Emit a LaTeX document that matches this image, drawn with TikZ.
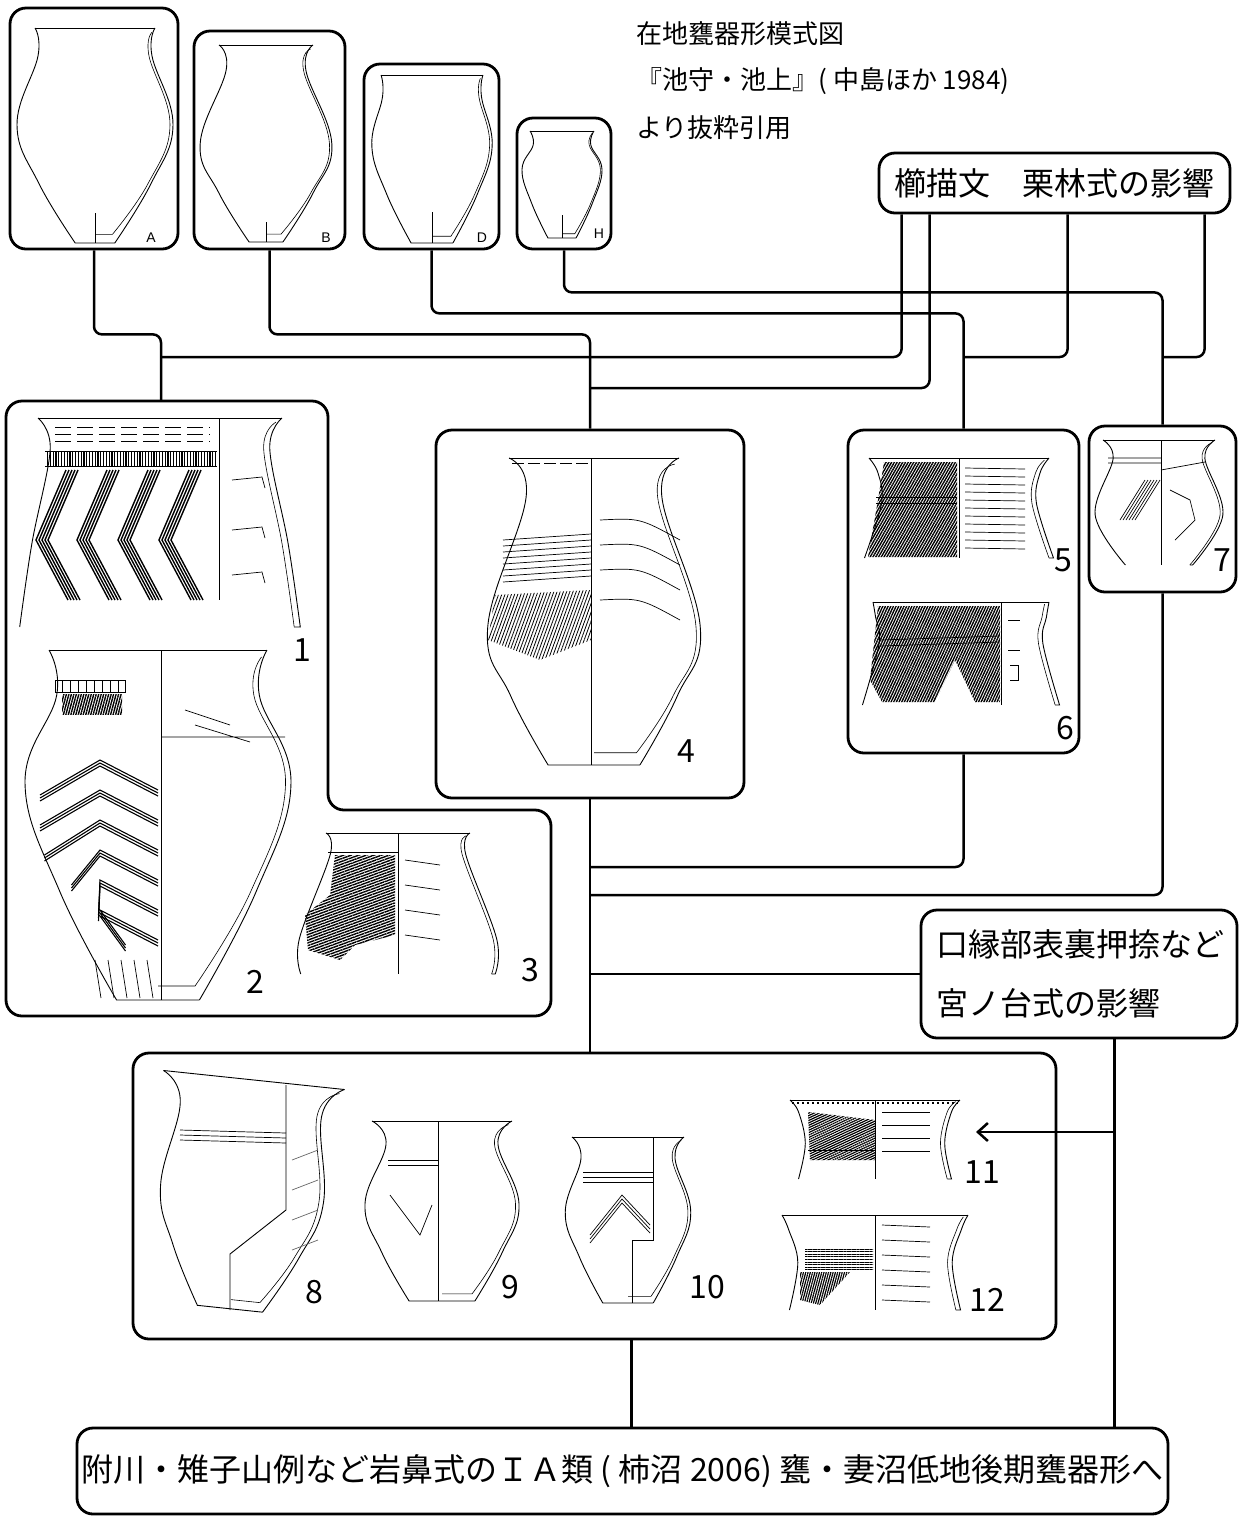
\documentclass[tikz,border=0pt]{standalone}
\usepackage{fontspec}
\setmainfont{Noto Sans CJK JP}
\newfontfamily\latinlab{Liberation Sans}
\usetikzlibrary{arrows.meta,positioning,calc,fit,patterns.meta}

\begin{document}
\begin{tikzpicture}[
      x=0.5pt, y=-0.5pt,
      >={Straight Barb[length=5pt,width=9pt]},
      font=\fontsize{16pt}{19pt}\selectfont,
      frame/.style ={draw, line width=1.4pt, rounded corners=8pt, inner sep=0pt},
      tbox/.style  ={frame, align=center},
      link/.style  ={line width=1.25pt, rounded corners=4pt},
      ware/.style  ={line width=0.45pt},
      wall/.style  ={line width=0.3pt},
      dec/.style   ={line width=0.35pt},
      ttl/.style   ={anchor=west, inner sep=0pt, font=\fontsize{13pt}{13pt}\selectfont},
      num/.style   ={font=\fontsize{16pt}{16pt}\selectfont},
      lett/.style  ={font=\latinlab\fontsize{7pt}{7pt}\selectfont},
      pics/pot/.style n args={4}{code={
        \draw[ware] (-1,0) -- (1,0);
        \draw[ware] plot[smooth, tension=0.7] coordinates {(-1,0) (-#1,0.13) (-#2,#3)
              ({-#4-(#2-#4)*0.62},{(#3+1)/2}) (-#4,1)} -- (#4,1);
        \draw[ware] plot[smooth, tension=0.7] coordinates {(1,0) (#1,0.13) (#2,#3)
              ({#4+(#2-#4)*0.62},{(#3+1)/2}) (#4,1)};
        \draw[wall] plot[smooth, tension=0.7] coordinates {(0.95,0.02) (#1-0.05,0.13) (#2-0.05,#3)
              ({#4+(#2-#4)*0.62-0.05},{(#3+1)/2}) (#4-0.04,0.96)} -- (0,0.96);
      }},
      pics/sherd/.style n args={4}{code={
        \draw[ware] (-1,0) -- (1,0);
        \draw[ware] plot[smooth, tension=0.6] coordinates {(-1,0) (-#1,0.15) (-#2,#3) (-#4,1)};
        \draw[ware] plot[smooth, tension=0.6] coordinates {(1,0) (#1,0.15) (#2,#3) (#4,1)} -- (#4-0.05,1);
        \draw[wall] plot[smooth, tension=0.6] coordinates {(0.95,0.02) (#1-0.05,0.15) (#2-0.05,#3) (#4-0.05,1)};
      }}
    ]
    \useasboundingbox (0,0) rectangle (1240,1517);

    % model forms A B D H
    \node[frame, fit={(10,8) (178,249)}] (vA) {};
    \node[frame, fit={(194,31) (345,249)}] (vB) {};
    \node[frame, fit={(364,64) (499,249)}] (vD) {};
    \node[frame, fit={(517,118) (611,249)}] (vH) {};
    \pic[xscale=60, yscale=215] at (95,28) {pot={0.95}{1.3}{0.45}{0.33}};
    \pic[xscale=47, yscale=197] at (266,45) {pot={0.85}{1.4}{0.5}{0.36}};
    \pic[xscale=51, yscale=168] at (432,75) {pot={0.97}{1.18}{0.42}{0.41}};
    \pic[xscale=32, yscale=107] at (562,131) {pot={0.9}{1.25}{0.36}{0.44}};
    \draw[ware] (95,213) -- (95,243) (266,222) -- (266,242)
                (432,212) -- (432,243) (562,215) -- (562,238);
    \node[lett] (lA) at (151,238) {A};
    \node[lett] (lB) at (326,238) {B};
    \node[lett] (lD) at (482,238) {D};
    \node[lett] (lH) at (599,234) {H};

    \node[ttl] (t1) at (636,34)  {在地甕器形模式図};
    \node[ttl] (t2) at (636,81)  {『池守・池上』( 中島ほか 1984)};
    \node[ttl] (t3) at (636,128) {より抜粋引用};

    \node[tbox, minimum width=175.5pt, minimum height=30pt] (kushi) at (1054.5,183) {櫛描文　栗林式の影響};

    % group 1-3
    \draw[line width=1.4pt, rounded corners=8pt]
          (6,401) -- (328,401) -- (328,810) -- (551,810) -- (551,1016) -- (6,1016) -- cycle;
    \coordinate (g13) at (161,401);
    \pic[xscale=122, yscale=209] at (160,418) {sherd={0.9}{1.05}{0.6}{1.15}};
    \draw[ware] (219,418) -- (219,600);
    \foreach \y in {427,434,441}
      \draw[dec, dash pattern=on 8pt off 3pt] (55,\y) -- (210,\y);
    \fill[pattern={Lines[angle=90,distance=1.4pt,line width=0.6pt]}] (45,451) rectangle (217,466);
    \draw[dec] (45,451) -- (217,451) (45,466) -- (217,466);
    \foreach \s in {80,121,162,203}
      \foreach \i in {0,...,4}
        \draw[line width=0.7pt] (\s+\i*3-14,470) -- (\s+\i*3-44,540) -- (\s+\i*3-12,600);
    \foreach \y in {480,530,575}
      \draw[dec] (232,\y) -- (262,\y-3) -- (265,\y+8);
    \node[num] (n1) at (302,650) {1};

    \pic[xscale=109, yscale=350] at (158,650) {pot={0.93}{1.22}{0.38}{0.38}};
    \draw[ware] (161,650) -- (161,1000);
    \draw[dec] (55,680) rectangle (125,692);
    \foreach \x in {62,70,...,118}
      \draw[dec] (\x,680) -- (\x,692);
    \fill[pattern={Lines[angle=75,distance=1.2pt,line width=0.7pt]}] (62,694) rectangle (122,714);
    \foreach \y [evaluate=\y as \xl using {40+max(0,\y-815)*0.9}] in {760,790,...,910}
      \foreach \i in {0,3,6}
        \draw[dec, line width=0.55pt] (\xl,\y+35+\i) -- (100,\y+\i) -- (158,\y+30+\i);
    \draw[dec] (161,737) -- (285,737) (185,710) -- (230,725) (195,725) -- (250,742);
    \foreach \x in {95,108,...,147}
      \draw[dec] (\x,960) -- (\x+6,998);
    \node[num] (n2) at (255,982) {2};

    \pic[xscale=72, yscale=141] at (398,833) {sherd={0.94}{1.37}{0.75}{1.35}};
    \draw[ware] (398,833) -- (398,974);
    \fill[pattern={Lines[angle=20,distance=1.3pt,line width=0.7pt]}]
          (335,855) -- (395,855) -- (395,935) -- (355,945) -- (340,960) -- (308,950) -- (305,915) -- (330,895) -- cycle;
    \draw[dec] (328,852) -- (398,852);
    \foreach \y in {860,885,910,935}
      \draw[dec] (405,\y) -- (440,\y+5);
    \node[num] (n3) at (530,970) {3};

    % vessel 4
    \node[frame, fit={(436,430) (744,798)}] (v4) {};
    \pic[xscale=85, yscale=307] at (594,458) {pot={0.8}{1.25}{0.55}{0.54}};
    \draw[ware] (591,458) -- (591,765);
    \draw[dec, dash pattern=on 6pt off 2pt] (512,463) -- (588,463);
    \foreach \y in {540,546,...,582}
      \draw[dec] (503,\y) -- (591,\y-6);
    \fill[pattern={Lines[angle=70,distance=1.5pt,line width=0.4pt]}]
          (495,595) -- (591,590) -- (591,640) -- (540,660) -- (488,640) -- cycle;
    \foreach \y in {520,545,570,600}
      \draw[dec] (600,\y) .. controls (640,\y-2) .. (680,\y+20);
    \node[num] (n4) at (686,751) {4};

    % vessels 5 6
    \node[frame, fit={(848,430) (1079,753)}] (v56) {};
    \pic[xscale=90, yscale=100] at (959,458) {sherd={0.9}{0.86}{0.45}{1.05}};
    \draw[ware] (959,458) -- (959,558);
    \fill[pattern={Lines[angle=60,distance=1.2pt,line width=0.7pt]}]
          (884,462) -- (957,462) -- (957,557) -- (868,557) -- (878,500) -- cycle;
    \draw[dec] (876,497) -- (957,497) (876,503) -- (957,503);
    \foreach \y in {468,476,...,548}
      \draw[dec] (965,\y) -- (1025,\y+1);
    \node[num] (n5) at (1063,560) {5};

    \pic[xscale=88, yscale=103] at (961,602) {sherd={0.97}{0.93}{0.4}{1.12}};
    \draw[ware] (1001,602) -- (1001,705);
    \fill[pattern={Lines[angle=65,distance=1.2pt,line width=0.7pt]}]
          (878,606) -- (1000,606) -- (1000,702) -- (975,702) -- (955,660) -- (935,702) -- (882,702) -- (870,680) -- cycle;
    \draw[dec] (880,640) -- (1000,636) (880,646) -- (1000,642);
    \draw[dec] (1008,620) -- (1020,620) (1008,650) -- (1020,650)
               (1010,665) -- (1018,665) -- (1018,680) -- (1010,680);
    \node[num] (n6) at (1065,728) {6};

    % vessel 7
    \node[frame, fit={(1089,426) (1236,592)}] (v7) {};
    \pic[xscale=56, yscale=125] at (1159,440) {sherd={0.82}{1.14}{0.6}{0.6}};
    \draw[ware] (1161,440) -- (1161,565);
    \draw[dec] (1108,458) -- (1161,458) (1108,463) -- (1161,463) (1161,470) -- (1205,462);
    \foreach \i in {0,...,5}
      \draw[dec] (1120+\i*3,520) -- (1145+\i*3,480);
    \draw[dec] (1170,490) -- (1190,500) -- (1195,520) -- (1175,540);
    \node[num] (n7) at (1222,560) {7};

    \node[tbox, minimum width=158pt, minimum height=64pt, text width=143pt, align=left,
          font=\fontsize{16pt}{29.5pt}\selectfont] (rim) at (1079,974) {口縁部表裏押捺など\\宮ノ台式の影響};

    % vessels 8-12
    \node[frame, fit={(133,1053) (1056,1339)}] (v812) {};
    \pic[rotate=-6, xscale=91, yscale=230] at (254,1080) {pot={0.78}{0.9}{0.5}{0.36}};
    \draw[ware] (286,1085) -- (286,1210) -- (230,1254) -- (230,1310);
    \foreach \y in {1130,1135,1140}
      \draw[dec] (180,\y) -- (286,\y+3);
    \foreach \y in {1160,1190,...,1250}
      \draw[dec, black!60] (292,\y) -- (318,\y-10);
    \node[num] (n8) at (314,1292) {8};

    \pic[xscale=70, yscale=180] at (442,1121) {pot={0.8}{1.1}{0.46}{0.47}};
    \draw[ware] (438,1121) -- (438,1301);
    \foreach \y in {1160,1165}
      \draw[dec] (388,\y) -- (438,\y);
    \draw[dec] (390,1195) -- (420,1235) -- (432,1205);
    \node[num] (n9) at (510,1287) {9};

    \pic[xscale=56, yscale=166] at (628,1137) {pot={0.84}{1.12}{0.45}{0.45}};
    \draw[ware] (653,1137) -- (653,1240) -- (632,1240) -- (632,1303);
    \foreach \y in {1172,1177,1182}
      \draw[dec] (583,\y) -- (653,\y);
    \foreach \i in {0,4,8}
      \draw[dec] (590,1235+\i) -- (622,1195+\i) -- (650,1225+\i);
    \node[num] (n10) at (707,1287) {10};

    \pic[xscale=85, yscale=79] at (875,1100) {sherd={0.9}{0.82}{0.55}{0.9}};
    \draw[ware] (875,1100) -- (875,1179);
    \draw[dec, line width=1pt, dash pattern=on 1pt off 1.5pt] (792,1103) -- (958,1103);
    \fill[pattern={Lines[angle=25,distance=1.1pt,line width=0.6pt]}]
          (808,1112) -- (875,1120) -- (875,1160) -- (810,1160) -- cycle;
    \draw[dec] (808,1150) -- (875,1150);
    \foreach \y in {1112,1125,1138,1151}
      \draw[dec] (882,\y) -- (930,\y);
    \node[num] (n11) at (982,1172) {11};

    \pic[xscale=93, yscale=95] at (875,1215) {sherd={0.93}{0.83}{0.5}{0.92}};
    \draw[ware] (875,1215) -- (875,1310);
    \fill[pattern={Lines[angle=0,distance=1.3pt,line width=0.5pt]}] (805,1248) rectangle (873,1270);
    \fill[pattern={Lines[angle=75,distance=1.1pt,line width=0.6pt]}]
          (800,1272) -- (850,1272) -- (820,1305) -- (800,1300) -- cycle;
    \foreach \y in {1225,1240,...,1300}
      \draw[dec] (882,\y) -- (930,\y+2);
    \node[num] (n12) at (987,1300) {12};

    \node[tbox, minimum width=545.5pt, minimum height=43pt] (fin) at (622.5,1471)
          {附川・雉子山例など岩鼻式のＩＡ類 ( 柿沼 2006) 甕・妻沼低地後期甕器形へ};

    % connectors
    \coordinate (k1) at ($(kushi.south west)+(24,0)$);
    \coordinate (k2) at ($(kushi.south west)+(52,0)$);
    \coordinate (k3) at ($(kushi.south west)+(190,0)$);
    \coordinate (k4) at ($(kushi.south west)+(327,0)$);
    \coordinate (jA) at (161,357);
    \coordinate (jB) at (590,388);
    \coordinate (jD) at (963.5,357);
    \coordinate (jH) at (1162.5,357);
    \coordinate (j5) at (590,867);
    \coordinate (j7) at (590,895);
    \coordinate (r1) at ($(rim.south west)+(195,0)$);
    \coordinate (b1) at ($(v812.south)+(37,0)$);
    \coordinate (a11) at (976,1132);

    \draw[link] (vA.south) -- ++(0,84) -| (g13);
    \draw[link] (vB.south) -- ++(0,84) -| (v4.north);
    \draw[link] (vD.south) -- ++(0,63) -| (v56.north);
    \draw[link] (vH.south) -- ++(0,42) -| (v7.north);
    \draw[link] (k1) |- (jA);
    \draw[link] (k2) |- (jB);
    \draw[link] (k3) |- (jD);
    \draw[link] (k4) |- (jH);

    \draw[link] (v4.south) -- (v4.south |- v812.north);
    \draw[link] (v56.south) |- (j5);
    \draw[link] (v7.south) |- (j7);
    \draw[link] (rim.west) -- (rim.west -| v4.south);
    \draw[link] (r1) -- (r1 |- fin.north);
    \draw[link, ->] (r1 |- a11) -- (a11);
    \draw[link] (b1) -- (b1 |- fin.north);
\end{tikzpicture}
\end{document}
